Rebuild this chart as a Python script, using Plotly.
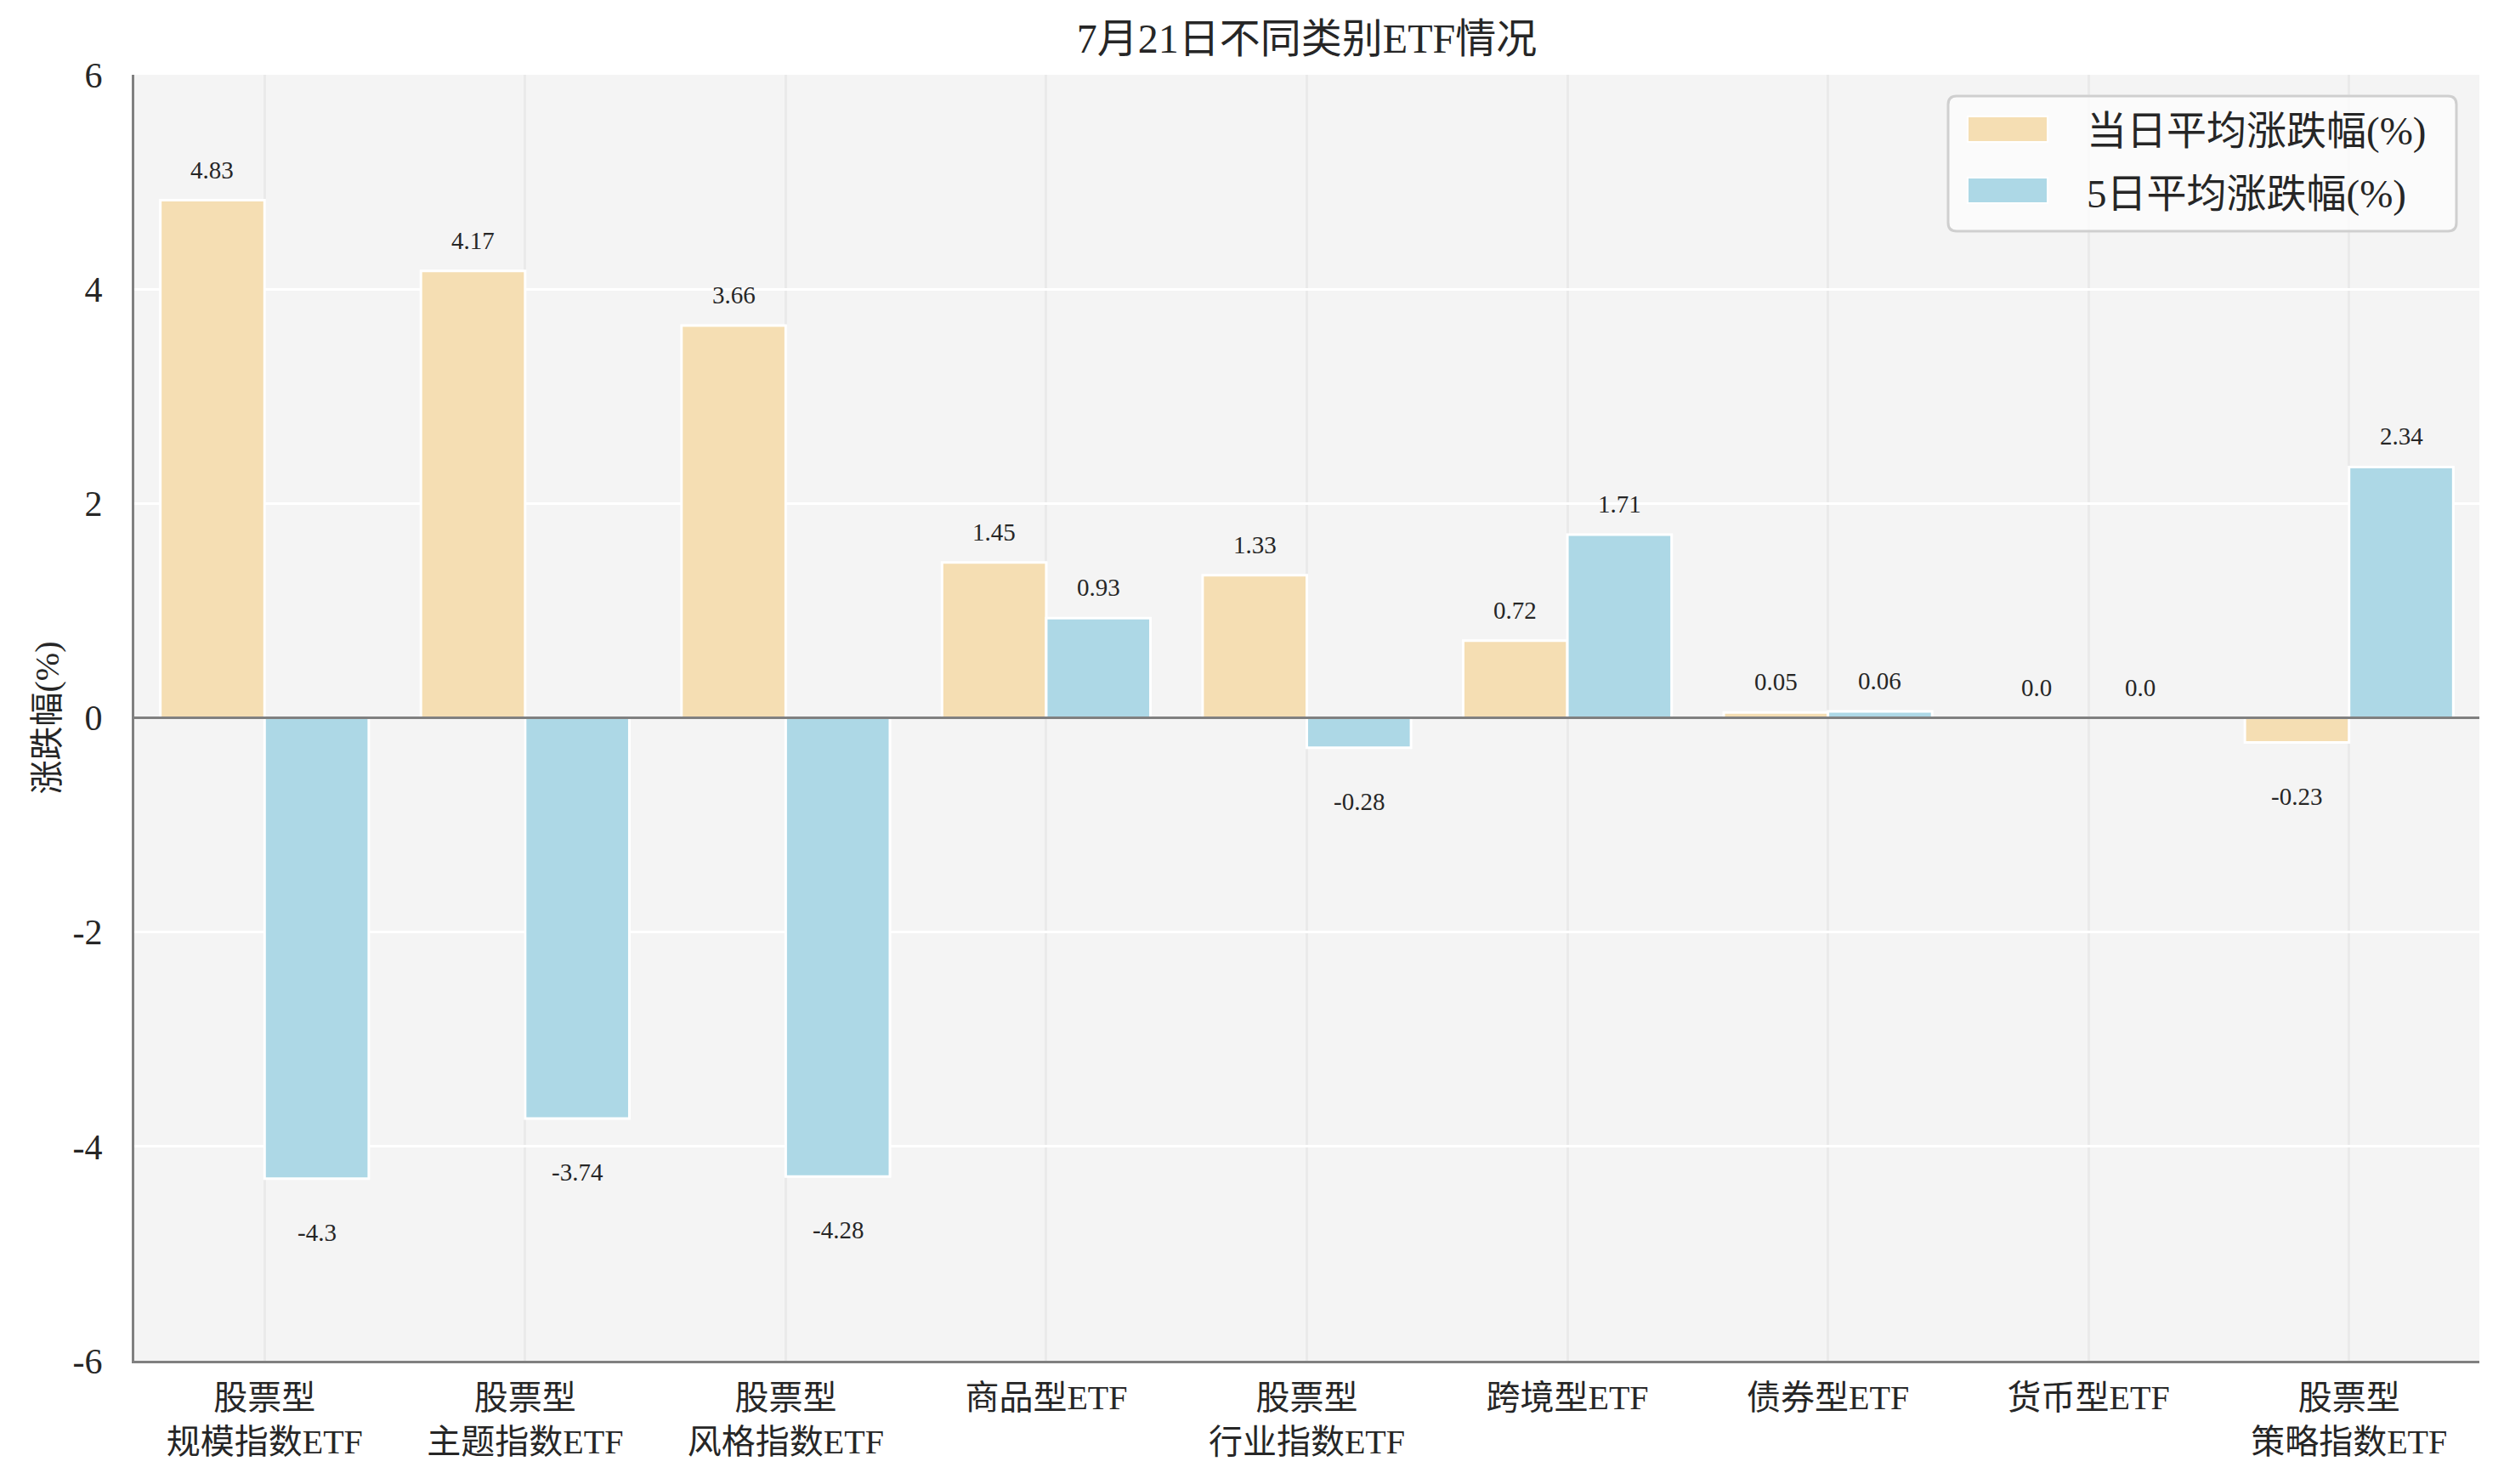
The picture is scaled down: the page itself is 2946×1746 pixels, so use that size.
import plotly.graph_objects as go

# ---------------- data ----------------
categories = [
    "股票型<br>规模指数ETF", "股票型<br>主题指数ETF", "股票型<br>风格指数ETF",
    "商品型ETF", "股票型<br>行业指数ETF", "跨境型ETF", "债券型ETF", "货币型ETF",
    "股票型<br>策略指数ETF",
]
series_names = ["当日平均涨跌幅(%)", "5日平均涨跌幅(%)"]
day_avg = [4.83, 4.17, 3.66, 1.45, 1.33, 0.72, 0.05, 0.0, -0.23]
five_day_avg = [-4.3, -3.74, -4.28, 0.93, -0.28, 1.71, 0.06, 0.0, 2.34]
y_ticks = [-6, -4, -2, 0, 2, 4, 6]
y_tick_text = ["-6", "-4", "-2", "0", "2", "4", "6"]
title_text = "7月21日不同类别ETF情况"
y_title = "涨跌幅(%)"

# ---------------- style ----------------
FONT = "Liberation Serif, Noto Sans CJK SC, serif"
C_DAY = "#F5DEB3"
C_FIVE = "#ADD8E6"
TXT = "#262626"
W_PX, H_PX = 2946, 1746
L, R, T, B = 158, 29, 88, 145
PW = W_PX - L - R
PH = H_PX - T - B
BAR_W = 0.4

idx = list(range(len(categories)))
x_day = [i - BAR_W / 2 for i in idx]
x_five = [i + BAR_W / 2 for i in idx]

fig = go.Figure()
fig.add_trace(go.Bar(x=x_day, y=day_avg, width=BAR_W, name=series_names[0],
                     marker=dict(color=C_DAY, line=dict(color="white", width=3)),
                     showlegend=False, hoverinfo="y"))
fig.add_trace(go.Bar(x=x_five, y=five_day_avg, width=BAR_W, name=series_names[1],
                     marker=dict(color=C_FIVE, line=dict(color="white", width=3)),
                     showlegend=False, hoverinfo="y"))

annotations = []
for xs, vals in ((x_day, day_avg), (x_five, five_day_avg)):
    for x, v in zip(xs, vals):
        annotations.append(dict(x=x, y=v, xref="x", yref="y", text=str(v),
                                showarrow=False, xanchor="center", yanchor="middle",
                                yshift=36 if v >= 0 else -63,
                                font=dict(family=FONT, size=29, color=TXT)))

# y-axis title
annotations.append(dict(x=0, y=0.5, xref="paper", yref="paper", text=y_title,
                        textangle=-90, showarrow=False, xanchor="center",
                        yanchor="middle", xshift=55 - L,
                        font=dict(family=FONT, size=40, color=TXT)))


def px(xp):
    return (xp - L) / PW


def py(yp):
    return (H_PX - B - yp) / PH


shapes = [dict(type="line", xref="paper", yref="y", x0=0, x1=1, y0=0, y1=0,
               line=dict(color="#808080", width=3), layer="above")]

# custom legend box (rounded rectangle)
bx0, bx1, by0, by1, rad = 2292, 2890, 113, 272, 10
path = (f"M {px(bx0 + rad)},{py(by0)} L {px(bx1 - rad)},{py(by0)} "
        f"Q {px(bx1)},{py(by0)} {px(bx1)},{py(by0 + rad)} "
        f"L {px(bx1)},{py(by1 - rad)} Q {px(bx1)},{py(by1)} {px(bx1 - rad)},{py(by1)} "
        f"L {px(bx0 + rad)},{py(by1)} Q {px(bx0)},{py(by1)} {px(bx0)},{py(by1 - rad)} "
        f"L {px(bx0)},{py(by0 + rad)} Q {px(bx0)},{py(by0)} {px(bx0 + rad)},{py(by0)} Z")
shapes.append(dict(type="path", xref="paper", yref="paper", path=path,
                   fillcolor="rgba(252,252,252,0.85)",
                   line=dict(color="#cfcfcf", width=3), layer="above"))
legend_rows = [(C_DAY, series_names[0], 137, 167, 154),
               (C_FIVE, series_names[1], 209, 239, 228)]
for col, name, y0, y1, yc in legend_rows:
    shapes.append(dict(type="rect", xref="paper", yref="paper",
                       x0=px(2315), x1=px(2409), y0=py(y1), y1=py(y0),
                       fillcolor=col, line=dict(color="white", width=2), layer="above"))
    annotations.append(dict(x=px(2453), y=py(yc), xref="paper", yref="paper",
                            text=name, showarrow=False, xanchor="left",
                            yanchor="middle",
                            font=dict(family=FONT, size=47, color=TXT)))

fig.update_layout(
    width=W_PX, height=H_PX,
    margin=dict(l=L, r=R, t=T, b=B, autoexpand=False),
    paper_bgcolor="white", plot_bgcolor="#F4F4F4",
    bargap=0.2, barmode="overlay",
    title=dict(text=title_text, x=0.5, xref="paper", xanchor="center",
               y=1 - 45 / H_PX, yref="container", yanchor="middle",
               font=dict(family=FONT, size=48, color=TXT)),
    xaxis=dict(range=[-0.5, len(categories) - 0.5], tickmode="array",
               tickvals=idx, ticktext=categories, showgrid=True,
               gridcolor="#EAEAEA", gridwidth=3, showline=True,
               linecolor="#808080", linewidth=3, ticks="outside", ticklen=6,
               tickcolor="rgba(0,0,0,0)", zeroline=False,
               tickfont=dict(family=FONT, size=40, color=TXT), automargin=False),
    yaxis=dict(range=[-6, 6], tickmode="array", tickvals=y_ticks,
               ticktext=y_tick_text, showgrid=True, gridcolor="white",
               gridwidth=3, showline=True, linecolor="#808080", linewidth=3,
               zeroline=False, ticks="outside", ticklen=26,
               tickcolor="rgba(0,0,0,0)",
               tickfont=dict(family=FONT, size=42, color=TXT), automargin=False),
    annotations=annotations,
    shapes=shapes,
    font=dict(family=FONT, color=TXT),
)

fig.write_html("out.html")
